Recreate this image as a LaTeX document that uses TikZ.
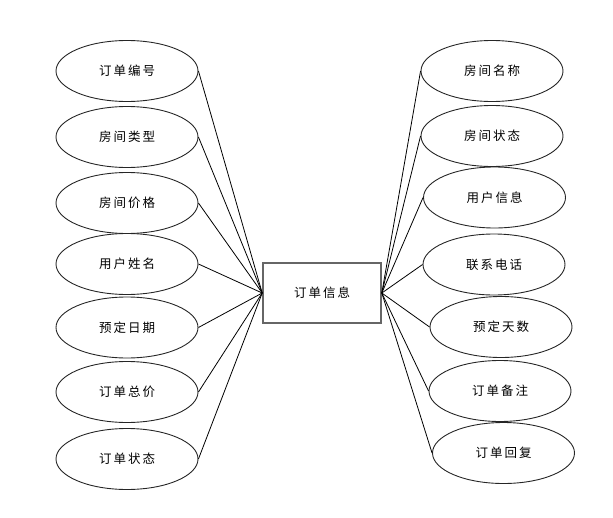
\documentclass[tikz,border=0pt]{standalone}
\usepackage{fontspec}
\newfontfamily\cjk[LetterSpace=16]{Noto Sans CJK SC}
\usetikzlibrary{shapes.geometric}
\begin{document}
\begin{tikzpicture}[x=1pt,y=-1pt,
  attr/.style={ellipse,draw=black!85,line width=0.9pt,minimum width=142pt,minimum height=61pt,inner sep=0pt,font=\cjk\fontsize{12.5}{14}\selectfont},
  ent/.style={rectangle,draw=black!60,line width=1.6pt,minimum width=118pt,minimum height=60pt,inner sep=0pt,font=\cjk\fontsize{12.5}{14}\selectfont},
  link/.style={draw=black,line width=0.8pt}]
\useasboundingbox (0,0) rectangle (613,517);
\node[ent] (c) at (322,293) {订单信息};
\node[attr] (l1) at (127,71) {订单编号};
\node[attr] (l2) at (127,137) {房间类型};
\node[attr] (l3) at (127,203) {房间价格};
\node[attr] (l4) at (127,264) {用户姓名};
\node[attr] (l5) at (127,327.5) {预定日期};
\node[attr] (l6) at (127,392) {订单总价};
\node[attr] (l7) at (127,459) {订单状态};
\node[attr] (r1) at (492,71) {房间名称};
\node[attr] (r2) at (492,136) {房间状态};
\node[attr] (r3) at (494.5,197.5) {用户信息};
\node[attr] (r4) at (494,264.5) {联系电话};
\node[attr] (r5) at (501,327) {预定天数};
\node[attr] (r6) at (500,391) {订单备注};
\node[attr] (r7) at (503.5,453) {订单回复};
\foreach \i in {1,...,7} {
  \draw[link] (l\i.east) -- (c.west);
  \draw[link] (c.east) -- (r\i.west);
}
\end{tikzpicture}
\end{document}
